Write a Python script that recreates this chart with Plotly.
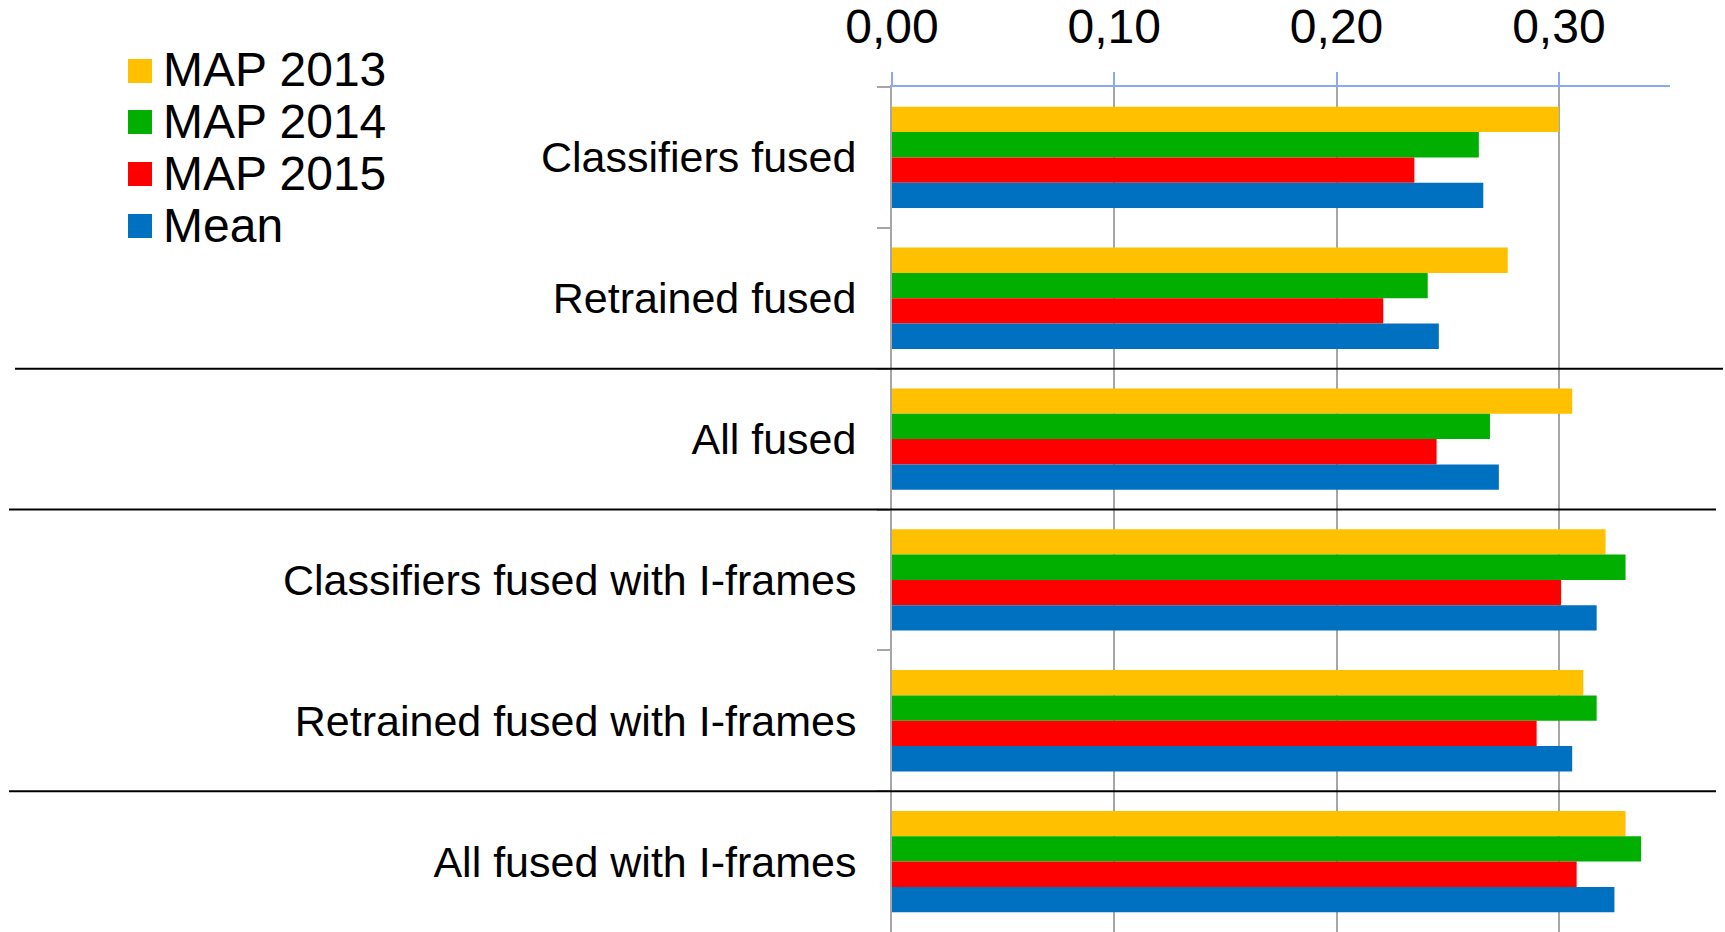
import plotly.graph_objects as go

categories = [
    "Classifiers fused",
    "Retrained fused",
    "All fused",
    "Classifiers fused with I-frames",
    "Retrained fused with I-frames",
    "All fused with I-frames",
]
series_names = ["MAP 2013", "MAP 2014", "MAP 2015", "Mean"]
map_2013 = [0.300, 0.277, 0.306, 0.321, 0.311, 0.330]
map_2014 = [0.264, 0.241, 0.269, 0.330, 0.317, 0.337]
map_2015 = [0.235, 0.221, 0.245, 0.301, 0.290, 0.308]
mean_vals = [0.266, 0.246, 0.273, 0.317, 0.306, 0.325]
x_ticks = [0.0, 0.1, 0.2, 0.3]
separator_after = [1.5, 2.5, 4.5]

colors = ["#FFC000", "#00AF00", "#FF0000", "#0070C0"]
series_vals = [map_2013, map_2014, map_2015, mean_vals]

W, H = 1725, 932
L, R, T, B = 892, 55, 87, 0
PW, PH = W - L - R, H - T - B
FONT = "Liberation Sans, Arial, sans-serif"

fig = go.Figure()
for name, vals, c in zip(series_names, series_vals, colors):
    fig.add_trace(go.Bar(
        y=categories, x=vals, name=name, orientation="h",
        marker=dict(color=c, line=dict(width=0)),
    ))

def px_x(p):
    return (p - L) / PW

def px_y(p):
    return (H - B - p) / PH

shapes = []
sep_ext = [(15, 1723), (9, 1716), (9, 1716)]
for yv, (a, b) in zip(separator_after, sep_ext):
    shapes.append(dict(type="line", xref="paper", yref="y", x0=px_x(a), x1=px_x(b),
                       y0=yv, y1=yv, line=dict(color="black", width=2)))

annotations = []
legend_cy = [71, 122, 174, 226]
for name, c, cy in zip(series_names, colors, legend_cy):
    shapes.append(dict(type="rect", xref="paper", yref="paper",
                       x0=px_x(128), x1=px_x(152), y0=px_y(cy + 12), y1=px_y(cy - 12),
                       fillcolor=c, line=dict(width=0)))
    annotations.append(dict(text=name, xref="paper", yref="paper", x=px_x(161), y=px_y(cy - 1),
                            xanchor="left", yanchor="middle", showarrow=False,
                            font=dict(size=48, color="black", family=FONT)))

fig.update_layout(
    width=W, height=H,
    margin=dict(l=L, r=R, t=T, b=B, pad=0),
    barmode="group", bargap=0.28, bargroupgap=0,
    plot_bgcolor="white", paper_bgcolor="white",
    showlegend=False,
    separators=", ",
    font=dict(family=FONT, color="black"),
    shapes=shapes, annotations=annotations,
    xaxis=dict(
        side="top", range=[0, 0.35], tickvals=x_ticks, tickformat=".2f",
        showgrid=True, gridcolor="#A6A6A6", gridwidth=1.5,
        showline=True, linecolor="#8AAAF0", linewidth=2,
        ticks="outside", ticklen=13, tickcolor="#8AAAF0", tickwidth=1.5,
        ticklabelstandoff=10,
        tickfont=dict(size=48, color="black", family=FONT),
        zeroline=False, fixedrange=True,
    ),
    yaxis=dict(
        autorange="reversed", type="category",
        showline=True, linecolor="#A6A6A6", linewidth=2,
        ticks="outside", tickson="boundaries", ticklen=13, tickcolor="#A6A6A6", tickwidth=1.5,
        ticklabelstandoff=25,
        tickfont=dict(size=43, color="black", family=FONT),
        showgrid=False, zeroline=False, fixedrange=True,
    ),
)

fig.write_html("out.html", config={"displayModeBar": False},
               post_script="document.body.style.margin='0';")
